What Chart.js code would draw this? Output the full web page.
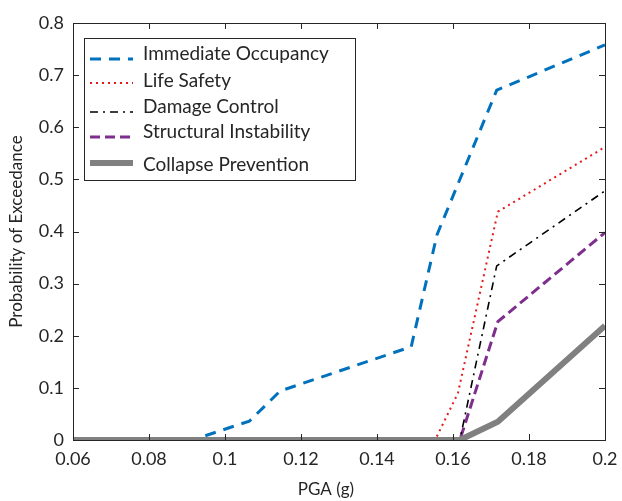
<!DOCTYPE html>
<html>
<head>
<meta charset="utf-8">
<script src="https://cdn.jsdelivr.net/npm/chart.js@4/dist/chart.umd.min.js"></script>
<style>
  html, body { margin: 0; padding: 0; background: #fff; }
  #wrap { width: 622px; height: 501px; }
</style>
</head>
<body>
<div id="wrap"><canvas id="pgaChart" width="622" height="501"></canvas></div>
<script>
// PGA values and exceedance probabilities
const ioPga = [0.06, 0.0915, 0.1013, 0.1064, 0.1145, 0.149, 0.1558, 0.1715, 0.2];
const ioProb = [0, 0, 0.024, 0.036, 0.094, 0.179, 0.394, 0.671, 0.758];

const lsPga = [0.06, 0.1553, 0.1613, 0.1718, 0.2];
const lsProb = [0, 0, 0.09, 0.438, 0.562];

const dcPga = [0.06, 0.1618, 0.1715, 0.2];
const dcProb = [0, 0, 0.334, 0.478];

const siPga = [0.06, 0.1618, 0.1718, 0.2];
const siProb = [0, 0, 0.227, 0.398];

const cpPga = [0.06, 0.1618, 0.1718, 0.2];
const cpProb = [0, 0, 0.035, 0.219];

const xTicks = [0.06, 0.08, 0.1, 0.12, 0.14, 0.16, 0.18, 0.2];
const yTicks = [0, 0.1, 0.2, 0.3, 0.4, 0.5, 0.6, 0.7, 0.8];

const FONT = "Lato, 'Open Sans', sans-serif";
const INK = "#262626";

function pts(xs, ys) {
    return xs.map((x, i) => ({ x: x, y: ys[i] }));
}

const series = [
    { label: "Immediate Occupancy", data: pts(ioPga, ioProb), borderColor: "#0072BD", borderWidth: 3, borderDash: [11, 8] },
    { label: "Life Safety", data: pts(lsPga, lsProb), borderColor: "#E41A1C", borderWidth: 2, borderDash: [2, 4] },
    { label: "Damage Control", data: pts(dcPga, dcProb), borderColor: "#000000", borderWidth: 1.6, borderDash: [8, 5, 2, 5] },
    { label: "Structural Instability", data: pts(siPga, siProb), borderColor: "#7E2F8E", borderWidth: 3, borderDash: [10, 5] },
    { label: "Collapse Prevention", data: pts(cpPga, cpProb), borderColor: "#808080", borderWidth: 6, borderDash: [], order: -1 },
];

// box around plot with inward ticks on all four sides
const boxPlugin = {
    id: "box",
    afterDatasetsDraw(chart) {
        const { ctx, chartArea: a, scales } = chart;
        ctx.save();
        ctx.strokeStyle = INK;
        ctx.lineWidth = 1;
        ctx.beginPath();
        xTicks.forEach(v => {
            const px = Math.round(scales.x.getPixelForValue(v)) + 0.5;
            ctx.moveTo(px, a.bottom); ctx.lineTo(px, a.bottom - 6);
            ctx.moveTo(px, a.top); ctx.lineTo(px, a.top + 6);
        });
        yTicks.forEach(v => {
            const py = Math.round(scales.y.getPixelForValue(v)) + 0.5;
            ctx.moveTo(a.left, py); ctx.lineTo(a.left + 6, py);
            ctx.moveTo(a.right, py); ctx.lineTo(a.right - 6, py);
        });
        ctx.stroke();
        ctx.strokeRect(Math.round(a.left) + 0.5, Math.round(a.top) + 0.5,
            Math.round(a.right - a.left), Math.round(a.bottom - a.top));
        ctx.restore();
    }
};

// legend box in the upper left of the plot, plus the x axis title
const legendPlugin = {
    id: "boxLegend",
    afterDraw(chart) {
        const { ctx, chartArea: a } = chart;
        const left = a.left + 11, top = a.top + 15;
        const w = 271, h = 142;
        ctx.save();
        ctx.fillStyle = "#fff";
        ctx.fillRect(left, top, w, h);
        ctx.strokeStyle = INK;
        ctx.lineWidth = 1;
        ctx.strokeRect(left + 0.5, top + 0.5, w, h);
        const textRows = [16, 43, 69, 94, 127];
        const lineRows = [21, 45, 74, 99, 125];
        ctx.font = "19px " + FONT;
        ctx.textBaseline = "middle";
        series.forEach((s, i) => {
            const y = top + lineRows[i];
            ctx.strokeStyle = s.borderColor;
            ctx.lineWidth = s.borderWidth;
            ctx.setLineDash(s.borderDash);
            ctx.beginPath();
            ctx.moveTo(left + 6, y);
            ctx.lineTo(left + 49, y);
            ctx.stroke();
            ctx.setLineDash([]);
            ctx.fillStyle = INK;
            ctx.fillText(s.label, left + 59, top + textRows[i]);
        });
        // x axis title
        ctx.font = "17px " + FONT;
        ctx.textAlign = "center";
        ctx.fillText("PGA (g)", 326, 490);
        ctx.restore();
    }
};

new Chart(document.getElementById("pgaChart"), {
    type: "line",
    data: {
        datasets: series.map(s => ({
            label: s.label,
            data: s.data,
            borderColor: s.borderColor,
            borderWidth: s.borderWidth,
            borderDash: s.borderDash,
            order: s.order || 0,
            pointRadius: 0,
            fill: false,
            tension: 0,
        }))
    },
    options: {
        responsive: false,
        animation: false,
        layout: { padding: { top: 23, right: 17, left: 2, bottom: 0 } },
        plugins: { legend: { display: false }, tooltip: { enabled: false } },
        scales: {
            x: {
                type: "linear",
                min: 0.06,
                max: 0.2,
                afterBuildTicks: axis => { axis.ticks = xTicks.map(v => ({ value: v })); },
                afterFit: axis => { axis.height = 61; axis.paddingRight = 0; axis.paddingLeft = 0; },
                grid: { display: false, drawTicks: false },
                border: { display: false },
                ticks: {
                    padding: 8,
                    color: INK,
                    font: { family: FONT, size: 18 },
                    callback: v => String(+v.toFixed(2)),
                },
            },
            y: {
                min: 0,
                max: 0.8,
                afterBuildTicks: axis => { axis.ticks = yTicks.map(v => ({ value: v })); },
                afterFit: axis => { axis.width = 71; axis.paddingTop = 0; axis.paddingBottom = 0; },
                grid: { display: false, drawTicks: false },
                border: { display: false },
                ticks: {
                    padding: 9,
                    color: INK,
                    font: { family: FONT, size: 18 },
                    callback: v => String(+v.toFixed(1)),
                },
                title: { display: true, text: "Probability of Exceedance", color: INK, font: { family: FONT, size: 17 }, padding: { top: 4, bottom: 0 } },
            },
        },
    },
    plugins: [boxPlugin, legendPlugin],
});
</script>
</body>
</html>
